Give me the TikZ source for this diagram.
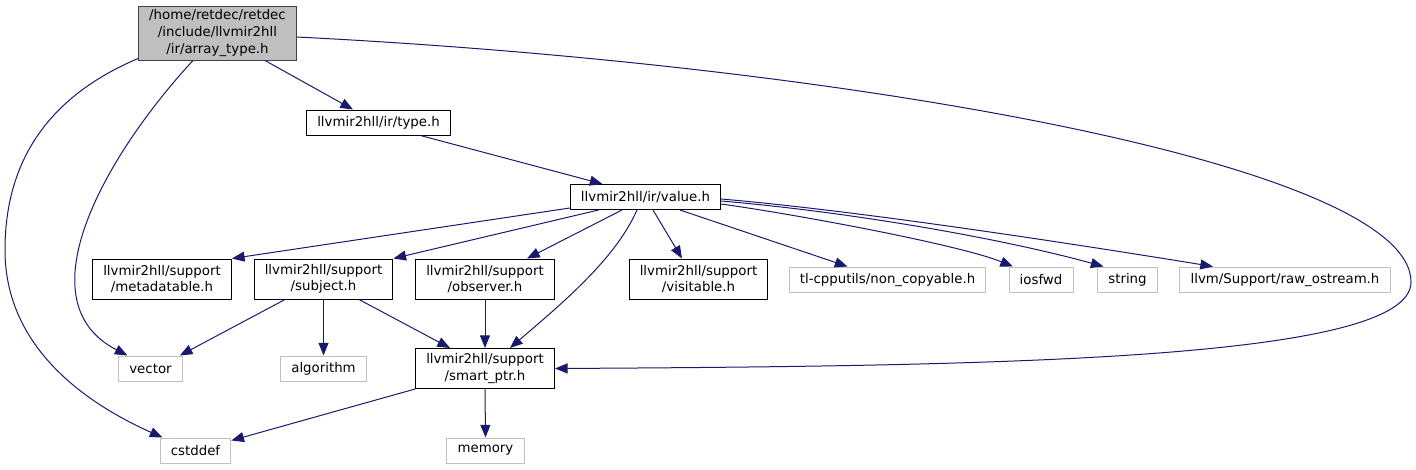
\documentclass[tikz,border=0pt]{standalone}
\usepackage{fontspec}
\setmainfont{DejaVu Sans}
\usepackage{xcolor}
\definecolor{azulnoche}{HTML}{191970}
\definecolor{grisext}{HTML}{BFBFBF}
\definecolor{grisraiz}{HTML}{BFBFBF}
\usepackage{tikz}
\usetikzlibrary{arrows.meta,positioning,calc}

\begin{document}
\begin{tikzpicture}[
  x=0.75pt, y=-0.75pt,
  archivo/.style={draw=black, align=center, font=\fontsize{10}{12.4}\selectfont,
                  inner xsep=8pt, inner ysep=0pt, minimum height=18.75pt, line width=0.75pt},
  doble/.style={archivo, minimum height=30pt},
  externo/.style={archivo, draw=grisext},
  raiz/.style={archivo, fill=grisraiz, draw=black!75, minimum height=40.5pt, minimum width=114.75pt},
  arr/.style={-{Triangle[length=9.5pt, width=7.5pt]}, color=azulnoche, line width=0.75pt}
]
\useasboundingbox (0,0) rectangle (1416,469);
\node[raiz] (raiz) at (217.5,33) {/home/retdec/retdec\\/include/llvmir2hll\\/ir/array\_type.h};
\node[archivo] (tipo) at (378.5,122.5) {llvmir2hll/ir/type.h};
\node[archivo] (valor) at (645.5,197) {llvmir2hll/ir/value.h};
\node[doble] (meta) at (162,279) {llvmir2hll/support\\/metadatable.h};
\node[doble] (subj) at (323.5,279) {llvmir2hll/support\\/subject.h};
\node[doble] (obs) at (485,279) {llvmir2hll/support\\/observer.h};
\node[doble] (visit) at (698.5,279) {llvmir2hll/support\\/visitable.h};
\node[externo] (noncp) at (887.5,279.5) {tl-cpputils/non\_copyable.h};
\node[externo] (iosf) at (1041,279.5) {iosfwd};
\node[externo] (str) at (1127.5,279.5) {string};
\node[externo] (rawos) at (1285,279.5) {llvm/Support/raw\_ostream.h};
\node[externo] (vec) at (150.5,368.5) {vector};
\node[externo] (algo) at (323.5,368.5) {algorithm};
\node[doble] (sptr) at (485,368.5) {llvmir2hll/support\\/smart\_ptr.h};
\node[externo] (cstd) at (195.5,450.5) {cstddef};
\node[externo] (mem) at (485.5,450.5) {memory};
% desde array_type.h
\draw[arr] ([shift={(47.5,0)}]raiz.south) -- ([shift={(-25.5,0)}]tipo.north);
\draw[arr] ([shift={(-24.5,0)}]raiz.south) .. controls (110,150) and (20,300) .. ([shift={(-23,0)}]vec.north);
\draw[arr] ([shift={(0,-2)}]raiz.south west) .. controls (40,100) and (5,170) .. (5,250)
  .. controls (5,350) and (90,405) .. ([shift={(-33,0)}]cstd.north);
\draw[arr] ([shift={(0,4)}]raiz.east) .. controls (850,65) and (1411,165) .. (1411,282)
  .. controls (1411,360) and (1000,366) .. (sptr.east);
% desde type.h y value.h
\draw[arr] ([shift={(42,0)}]tipo.south) -- ([shift={(-43,0)}]valor.north);
\draw[arr] ([shift={(0,-2)}]valor.south west) -- (meta.north east);
\draw[arr] ([shift={(-47,0)}]valor.south) -- (subj.north east);
\draw[arr] ([shift={(-23.5,0)}]valor.south) -- ([shift={(42,0)}]obs.north);
\draw[arr] ([shift={(-8.5,0)}]valor.south) .. controls (615,260) and (560,305) .. ([shift={(25,0)}]sptr.north);
\draw[arr] ([shift={(7.5,0)}]valor.south) -- ([shift={(-16.5,0)}]visit.north);
\draw[arr] ([shift={(34.5,0)}]valor.south) -- ([shift={(-40,0)}]noncp.north);
\draw[arr] ([shift={(0,7)}]valor.east) .. controls (800,215) and (960,245) .. ([shift={(-28,0)}]iosf.north);
\draw[arr] ([shift={(0,4)}]valor.east) .. controls (850,212) and (1000,238) .. ([shift={(-24,0)}]str.north);
\draw[arr] ([shift={(0,2)}]valor.east) .. controls (850,210) and (1050,240) .. ([shift={(-72,0)}]rawos.north);
% soporte
\draw[arr] ([shift={(-38.5,0)}]subj.south) -- ([shift={(-3,0)}]vec.north east);
\draw[arr] (subj.south) -- (algo.north);
\draw[arr] ([shift={(35.5,0)}]subj.south) -- ([shift={(-35,0)}]sptr.north);
\draw[arr] (obs.south) -- (sptr.north);
\draw[arr] (sptr.south west) -- ([shift={(0,3)}]cstd.north east);
\draw[arr] (sptr.south) -- (mem.north);
\end{tikzpicture}
\end{document}
